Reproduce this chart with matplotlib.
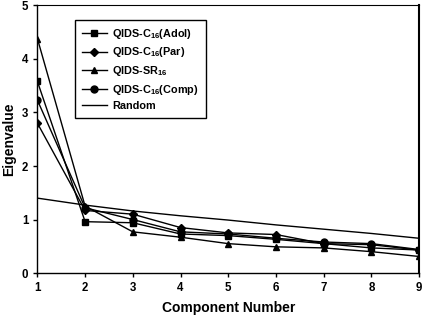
import matplotlib
matplotlib.use("Agg")
import matplotlib.pyplot as plt

components = [1, 2, 3, 4, 5, 6, 7, 8, 9]
adol = [3.58, 0.96, 0.94, 0.73, 0.70, 0.63, 0.55, 0.47, 0.43]
par = [2.80, 1.17, 1.10, 0.85, 0.75, 0.72, 0.55, 0.53, 0.43]
sr = [4.38, 1.25, 0.77, 0.67, 0.55, 0.49, 0.47, 0.40, 0.31]
comp = [3.23, 1.22, 1.00, 0.77, 0.73, 0.65, 0.58, 0.55, 0.44]
random_ev = [1.40, 1.27, 1.16, 1.07, 0.99, 0.90, 0.82, 0.74, 0.65]

labels = [r"QIDS-C$_{\mathbf{16}}$(Adol)", r"QIDS-C$_{\mathbf{16}}$(Par)",
          r"QIDS-SR$_{\mathbf{16}}$", r"QIDS-C$_{\mathbf{16}}$(Comp)", "Random"]

plt.rcParams['font.family'] = ['Liberation Sans', 'DejaVu Sans']
plt.rcParams['font.weight'] = 'bold'
plt.rcParams['mathtext.fontset'] = 'custom'
plt.rcParams['mathtext.bf'] = 'Liberation Sans:bold'
plt.rcParams['mathtext.rm'] = 'Liberation Sans:bold'

fig = plt.figure(figsize=(4.25, 3.19), dpi=100)
ax = fig.add_axes([0.088, 0.144, 0.898, 0.839])

lw = 1.0
ms = 5
ax.plot(components, adol, color='black', lw=lw, marker='s', ms=ms, label=labels[0])
ax.plot(components, par, color='black', lw=lw, marker='D', ms=ms - 0.5, label=labels[1])
ax.plot(components, sr, color='black', lw=lw, marker='^', ms=ms, label=labels[2])
ax.plot(components, comp, color='black', lw=lw, marker='o', ms=ms, label=labels[3])
ax.plot(components, random_ev, color='black', lw=lw, label=labels[4])

ax.set_xlim(1, 9)
ax.set_ylim(0, 5)
ax.set_xticks(components)
ax.set_yticks([0, 1, 2, 3, 4, 5])
ax.tick_params(axis='both', labelsize=8.3, direction='out', length=3, width=1)
for lab in ax.get_xticklabels() + ax.get_yticklabels():
    lab.set_fontweight('bold')

ax.set_xlabel("Component Number", fontsize=10, fontweight='bold', labelpad=5)
ax.set_ylabel("Eigenvalue", fontsize=10, fontweight='bold', labelpad=4)

ax.spines['left'].set_linewidth(1.0)
ax.spines['bottom'].set_linewidth(1.0)
ax.spines['top'].set_linewidth(0.8)
ax.spines['right'].set_linewidth(1.5)

leg = ax.legend(loc='upper left', bbox_to_anchor=(0.098, 0.946), fontsize=7.8,
                frameon=True, fancybox=False, edgecolor='black', framealpha=1,
                handlelength=2.3, borderpad=0.65, labelspacing=0.42, handletextpad=0.5,
                borderaxespad=0)
leg.get_frame().set_linewidth(1.0)
for t in leg.get_texts():
    t.set_fontweight('bold')

fig.savefig("out.png", dpi=100)
